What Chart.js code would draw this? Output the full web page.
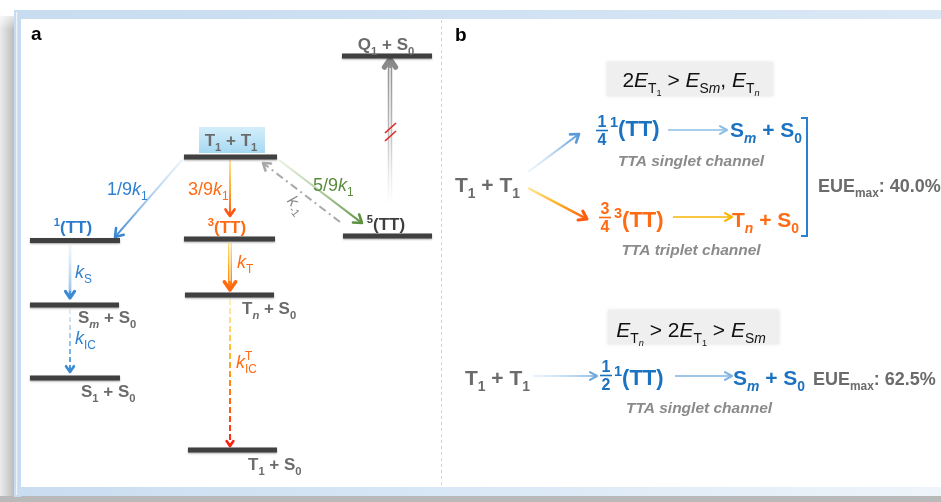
<!DOCTYPE html>
<html>
<head>
<meta charset="utf-8">
<script src="https://cdn.jsdelivr.net/npm/chart.js@4/dist/chart.umd.min.js"></script>
<style>
  html, body { margin: 0; padding: 0; background: #fff; }
  canvas { display: block; }
</style>
</head>
<body>
<canvas id="scheme" width="941" height="502"></canvas>
<script>
// ---- Energy levels (arbitrary energy units, higher = up) ----
const levelNames  = ['TT', 'TT1', 'TT3', 'TT5', 'Q1S0', 'SmS0', 'S1S0', 'TnS0', 'T1S0'];
const levelLabels = ['T_{1} + T_{1}', '^{1}(TT)', '^{3}(TT)', '^{5}(TT)', 'Q_{1} + S_{0}',
                     'S_{*m*} + S_{0}', 'S_{1} + S_{0}', 'T_{*n*} + S_{0}', 'T_{1} + S_{0}'];
const levelEnergy = [345, 261.5, 263, 266, 446, 197, 124, 207, 52];

// ---- Transitions between levels ----
const rateFrom   = ['TT', 'TT', 'TT', 'TT5', 'TT5', 'TT1', 'SmS0', 'TT3', 'TnS0'];
const rateTo     = ['TT1', 'TT3', 'TT5', 'TT', 'Q1S0', 'SmS0', 'S1S0', 'TnS0', 'T1S0'];
const rateLabels = ['1/9*k*_{1}', '3/9*k*_{1}', '5/9*k*_{1}', '*k*_{-1}', '',
                    '*k*_{S}', '*k*_{IC}', '*k*_{T}', '*k*_{IC}^{T}'];

// ---- Spin-statistics channels (panel b) ----
const conditionLabels = ['2*E*_{T_{1}} > *E*_{S*m*}, *E*_{T_{*n*}}', '*E*_{T_{*n*}} > 2*E*_{T_{1}} > *E*_{S*m*}'];
const singletFractions = ['1/4', '1/2'];
const tripletFractions = ['3/4'];
const eueMaxPercent = [40.0, 62.5];

const W = 941, H = 502;
const FAM = '"Liberation Sans", Arial, Helvetica, sans-serif';
const GRAY = '#6b6b6b', BLUE = '#2a7ccc', BLUE_B = '#1a72c0', ORANGE = '#ff6a12', GREEN = '#5b8b3c';

// Horizontal extent of each level bar and where its label sits
const LEVEL_SPAN = {
  TT: [184, 277], TT1: [30, 120], TT3: [184, 275], TT5: [343, 432], Q1S0: [342, 432],
  SmS0: [30, 119], S1S0: [30, 120], TnS0: [185, 274], T1S0: [188, 277]
};
const LEVEL_TEXT = {
  TT:   { x: 231, dy: -11, align: 'center', color: GRAY },
  TT1:  { x: 73,  dy: -7.5, align: 'center', color: BLUE },
  TT3:  { x: 227, dy: -6, align: 'center', color: ORANGE },
  TT5:  { x: 386, dy: -6, align: 'center', color: '#3e3e3e' },
  Q1S0: { x: 386, dy: -6, align: 'center', color: GRAY },
  SmS0: { x: 78,  dy: 18, align: 'left', color: GRAY },
  S1S0: { x: 81,  dy: 19, align: 'left', color: GRAY },
  TnS0: { x: 242, dy: 19, align: 'left', color: GRAY },
  T1S0: { x: 248, dy: 20, align: 'left', color: GRAY }
};
// Arrow geometry: x at both ends, gap from the source/target level (pixels, downwards positive)
const RATE_STYLE = [
  { x0: 182, x1: 115, g0: 3, g1: -3.5, stops: ['rgba(200,225,245,0.4)', '#3a88d4'], w: 2, head: 9, tx: 107, ty: 195, color: '#2f80d0' },
  { x0: 230, x1: 230, g0: 3, g1: -23, stops: ['#ffe3a0', '#ffb030', '#ff5510'], w: 2, head: 8, tx: 188, ty: 195, color: ORANGE },
  { x0: 279, x1: 362, g0: 3, g1: -13, stops: ['rgba(215,232,200,0.6)', '#5d9240'], w: 2, head: 9, tx: 313, ty: 191, color: GREEN },
  { x0: 340, x1: 263, g0: -14, g1: 6, color: '#a9a9a9', w: 2, head: 8, dash: [8, 4, 2, 4], rot: 0.87, tx: 296, ty: 205, tcolor: '#8a8a8a' },
  { x0: 390, x1: 390, g0: -31, g1: 3, stops: ['rgba(210,210,210,0)', '#bdbdbd', '#8c8c8c'], w: 4.5, hollow: 1.6, head: 10, headColor: '#8a8a8a', brk: true },
  { x0: 70, x1: 70, g0: 4.5, g1: -7, stops: ['rgba(205,228,247,0.5)', '#3a8ad6'], w: 2.5, hollow: 1, head: 8, tx: 75, ty: 278, color: '#2f80d0' },
  { x0: 70, x1: 70, g0: 4, g1: -6, stops: ['rgba(205,228,247,0.6)', '#3a8ad6'], w: 2, dash: [5, 3], head: 7, tx: 75, ty: 344, color: '#2f80d0' },
  { x0: 230, x1: 230, g0: 4, g1: -5, stops: ['#ffe58a', '#ffb020', '#ff6a10'], w: 4, hollow: 1.4, head: 10, headW: 3.5, tx: 237, ty: 268, color: ORANGE },
  { x0: 230, x1: 230, g0: 4, g1: -4, stops: ['#fff2c0', '#ffc030', '#ff7010', '#ff2010'], w: 2, dash: [6, 3], head: 6, tx: 236, ty: 368, color: ORANGE }
];

// ---------- rich text with sub/superscripts and *italics* ----------
function parseRich(src) {
  const runs = [];
  let italic = false, gid = 0;
  function walk(str, stack, groups, over) {
    let buf = '', i = 0, lastSub = null;
    const flush = () => {
      if (buf) { runs.push({ t: buf, stack: stack.slice(), it: italic, groups: groups.slice(), over }); buf = ''; }
    };
    while (i < str.length) {
      const c = str[i];
      if ((c === '_' || c === '^') && str[i + 1] === '{') {
        flush();
        let d = 1, j = i + 2;
        while (j < str.length && d) { if (str[j] === '{') d++; else if (str[j] === '}') d--; j++; }
        const id = ++gid;
        const ov = over !== undefined ? over : (c === '^' && lastSub !== null ? lastSub : undefined);
        walk(str.slice(i + 2, j - 1), stack.concat(c), groups.concat(id), ov);
        lastSub = c === '_' ? id : null;
        i = j;
      } else {
        if (c === '*') { flush(); italic = !italic; }
        else { buf += c; lastSub = null; }
        i++;
      }
    }
    flush();
  }
  walk(src, [], [], undefined);
  return runs;
}

function layoutRich(ctx, runs, size, weight, subScale) {
  let cx = 0, maxX = 0;
  const gStart = {}, applied = {};
  for (const r of runs) {
    let sz = size, dy = 0;
    for (const m of r.stack) {
      if (m === '_') dy += sz * 0.27; else dy -= sz * 0.42;
      sz *= subScale;
    }
    r.size = sz; r.dy = dy;
    r.font = (r.it ? 'italic ' : '') + weight + ' ' + sz.toFixed(2) + 'px ' + FAM;
    if (r.over !== undefined) {
      if (!applied[r.over]) { cx = gStart[r.over]; applied[r.over] = true; }
    } else {
      cx = maxX;
    }
    for (const g of r.groups) if (gStart[g] === undefined) gStart[g] = cx;
    ctx.font = r.font;
    r.w = ctx.measureText(r.t).width;
    r.x = cx;
    cx += r.w;
    maxX = Math.max(maxX, cx);
  }
  return maxX;
}

function drawRich(ctx, src, x, y, o) {
  const runs = parseRich(src);
  const w = layoutRich(ctx, runs, o.size, o.weight || 'bold', o.sub || 0.66);
  const x0 = o.align === 'center' ? x - w / 2 : (o.align === 'right' ? x - w : x);
  ctx.save();
  ctx.textAlign = 'left';
  ctx.textBaseline = 'alphabetic';
  ctx.fillStyle = o.color;
  for (const r of runs) { ctx.font = r.font; ctx.fillText(r.t, x0 + r.x, y + r.dy); }
  ctx.restore();
  return w;
}

function drawFraction(ctx, frac, cx, y, size, color) {
  const [num, den] = frac.split('/');
  ctx.save();
  ctx.font = 'bold ' + size + 'px ' + FAM;
  ctx.fillStyle = color; ctx.strokeStyle = color;
  ctx.textAlign = 'center'; ctx.textBaseline = 'alphabetic';
  ctx.fillText(num, cx, y - 3);
  ctx.lineWidth = 1.6;
  ctx.beginPath(); ctx.moveTo(cx - 6, y + 0.5); ctx.lineTo(cx + 6, y + 0.5); ctx.stroke();
  ctx.fillText(den, cx, y + 3 + size * 0.72);
  ctx.restore();
}

function arrow(ctx, p0, p1, o) {
  const ang = Math.atan2(p1.y - p0.y, p1.x - p0.x);
  const len = Math.hypot(p1.x - p0.x, p1.y - p0.y);
  let stroke = o.color;
  if (o.stops) {
    const g = ctx.createLinearGradient(p0.x, p0.y, p1.x, p1.y);
    o.stops.forEach((c, i) => g.addColorStop(i / (o.stops.length - 1), c));
    stroke = g;
  }
  const headColor = o.headColor || (o.stops ? o.stops[o.stops.length - 1] : o.color);
  ctx.save();
  ctx.lineCap = 'butt';
  ctx.strokeStyle = stroke;
  ctx.lineWidth = o.w;
  if (o.dash) ctx.setLineDash(o.dash);
  const ex = p0.x + Math.cos(ang) * (len - 1.5), ey = p0.y + Math.sin(ang) * (len - 1.5);
  ctx.beginPath(); ctx.moveTo(p0.x, p0.y); ctx.lineTo(ex, ey); ctx.stroke();
  if (o.hollow) {
    const hx = p0.x + Math.cos(ang) * (len - o.head * 0.9), hy = p0.y + Math.sin(ang) * (len - o.head * 0.9);
    ctx.strokeStyle = 'rgba(255,255,255,0.8)';
    ctx.lineWidth = o.hollow;
    ctx.beginPath(); ctx.moveTo(p0.x, p0.y); ctx.lineTo(hx, hy); ctx.stroke();
  }
  ctx.setLineDash([]);
  const ha = o.headAngle || 0.6, hs = o.head;
  ctx.strokeStyle = headColor;
  ctx.lineWidth = o.headW || (o.w + 0.6);
  ctx.lineCap = 'round'; ctx.lineJoin = 'round';
  ctx.beginPath();
  ctx.moveTo(p1.x - hs * Math.cos(ang - ha), p1.y - hs * Math.sin(ang - ha));
  ctx.lineTo(p1.x, p1.y);
  ctx.lineTo(p1.x - hs * Math.cos(ang + ha), p1.y - hs * Math.sin(ang + ha));
  ctx.stroke();
  ctx.restore();
}

// ---------- plugins ----------
const framePlugin = {
  id: 'frame',
  beforeDraw(chart) {
    const ctx = chart.ctx;
    ctx.save();
    ctx.fillStyle = '#ffffff'; ctx.fillRect(0, 0, W, H);
    // soft grey drop shadow on the left and bottom
    let g = ctx.createLinearGradient(0, 0, 14, 0);
    g.addColorStop(0, '#ececec'); g.addColorStop(1, '#bcbcbc');
    ctx.fillStyle = g; ctx.fillRect(0, 16, 14, H - 16);
    g = ctx.createLinearGradient(0, 8, 0, 30);
    g.addColorStop(0, 'rgba(255,255,255,1)'); g.addColorStop(1, 'rgba(255,255,255,0)');
    ctx.fillStyle = g; ctx.fillRect(0, 8, 14, 22);
    ctx.fillStyle = '#b9b9b9'; ctx.fillRect(0, 496, W, 6);
    // pale blue frame
    g = ctx.createLinearGradient(14, 0, W, 0);
    g.addColorStop(0, '#c8dcf0'); g.addColorStop(0.5, '#cfe1f3'); g.addColorStop(1, '#dbe8f5');
    ctx.fillStyle = g; ctx.fillRect(14, 10, W - 14, 9);
    ctx.fillStyle = '#c6dbef'; ctx.fillRect(14, 10, 7, 487);
    g = ctx.createLinearGradient(14, 0, W, 0);
    g.addColorStop(0, '#c9ddf1'); g.addColorStop(0.5, '#dae8f6'); g.addColorStop(1, '#eef4fa');
    ctx.fillStyle = g; ctx.fillRect(14, 487, W - 14, 9);
    ctx.fillStyle = 'rgba(255,255,255,0.7)'; ctx.fillRect(16, 12, 1.2, 483);
    ctx.fillStyle = '#ffffff'; ctx.fillRect(21, 19, W - 21, 468);
    // dashed divider between the two panels
    ctx.strokeStyle = '#d2d2d2'; ctx.lineWidth = 1; ctx.setLineDash([3, 3]);
    ctx.beginPath(); ctx.moveTo(441.5, 20); ctx.lineTo(441.5, 486); ctx.stroke();
    ctx.restore();
  }
};

const levelShadow = {
  id: 'levelShadow',
  beforeDatasetDraw(chart) {
    chart.ctx.save();
    chart.ctx.shadowColor = 'rgba(0,0,0,0.35)';
    chart.ctx.shadowBlur = 2;
    chart.ctx.shadowOffsetY = 1;
  },
  afterDatasetDraw(chart) { chart.ctx.restore(); }
};

function levelIndex(name) { return levelNames.indexOf(name); }

const schemePlugin = {
  id: 'scheme',
  beforeDatasetsDraw(chart) {
    const ctx = chart.ctx, xs = chart.scales.x, ys = chart.scales.y;
    const X = v => xs.getPixelForValue(v);
    const Y = e => ys.getPixelForValue(e);
    // highlight behind the T1 + T1 pair label
    const eTT = levelEnergy[levelIndex('TT')];
    const g = ctx.createLinearGradient(0, Y(eTT) - 30, 0, Y(eTT) - 4);
    g.addColorStop(0, '#d4eefa'); g.addColorStop(1, '#a6d9f2');
    ctx.fillStyle = g;
    ctx.fillRect(X(199), Y(eTT) - 30, X(265) - X(199), 26);

    // transition arrows
    rateFrom.forEach((from, i) => {
      const s = RATE_STYLE[i];
      const yA = Y(levelEnergy[levelIndex(from)]) + s.g0;
      const yB = Y(levelEnergy[levelIndex(rateTo[i])]) + s.g1;
      arrow(ctx, { x: X(s.x0), y: yA }, { x: X(s.x1), y: yB }, s);
      if (s.brk) {
        const ym = (yA + yB) / 2;
        ctx.save();
        ctx.strokeStyle = '#e0262a'; ctx.lineWidth = 1.6;
        [-4, 4].forEach(o => {
          ctx.beginPath();
          ctx.moveTo(X(s.x0) - 5, ym + o + 5); ctx.lineTo(X(s.x0) + 6, ym + o - 5);
          ctx.stroke();
        });
        ctx.restore();
      }
    });
  },
  afterDatasetsDraw(chart) {
    const ctx = chart.ctx, xs = chart.scales.x, ys = chart.scales.y;
    const X = v => xs.getPixelForValue(v);
    const Y = e => ys.getPixelForValue(e);
    const T = top => ys.getPixelForValue(H - top);   // layout position measured from the top

    // panel letters
    drawRich(ctx, 'a', X(31), T(40), { size: 19, color: '#000' });
    drawRich(ctx, 'b', X(455), T(41), { size: 19, color: '#000' });

    // level labels
    levelNames.forEach((n, i) => {
      const t = LEVEL_TEXT[n];
      drawRich(ctx, levelLabels[i], X(t.x), Y(levelEnergy[i]) + t.dy, { size: 17, color: t.color, align: t.align });
    });

    // rate labels
    rateLabels.forEach((lab, i) => {
      if (!lab) return;
      const s = RATE_STYLE[i];
      if (s.rot) {
        ctx.save();
        ctx.translate(X(s.tx), T(s.ty));
        ctx.rotate(s.rot);
        drawRich(ctx, lab, 0, 5, { size: 16, weight: 'normal', color: s.tcolor, align: 'center', sub: 0.7 });
        ctx.restore();
      } else {
        drawRich(ctx, lab, X(s.tx), T(s.ty), { size: 18, weight: 'normal', color: s.color });
      }
    });

    // ---- panel b ----
    const box = (x, y, w, h) => {
      ctx.save();
      ctx.shadowColor = 'rgba(0,0,0,0.12)'; ctx.shadowBlur = 3;
      ctx.fillStyle = '#efefef';
      ctx.fillRect(X(x), T(y), X(x + w) - X(x), T(y + h) - T(y));
      ctx.restore();
    };
    box(607, 62, 166, 34);
    box(608, 310, 171, 34);
    drawRich(ctx, conditionLabels[0], X(691), T(87), { size: 21, weight: 'normal', color: '#111', align: 'center' });
    drawRich(ctx, conditionLabels[1], X(691), T(337), { size: 21, weight: 'normal', color: '#111', align: 'center' });

    // case 1: singlet and triplet channels
    drawRich(ctx, 'T_{1} + T_{1}', X(455), T(192), { size: 21, color: GRAY });
    arrow(ctx, { x: X(528), y: T(172) }, { x: X(579), y: T(134) },
      { stops: ['rgba(200,225,245,0.3)', '#5a9ad8'], w: 2, head: 9 });
    arrow(ctx, { x: X(528), y: T(188) }, { x: X(587), y: T(219) },
      { stops: ['#ffe8a0', '#ffb020', '#ff5a10'], w: 2.5, head: 9 });
    drawFraction(ctx, singletFractions[0], X(602), T(130), 16, BLUE_B);
    drawRich(ctx, '^{1}(TT)', X(610), T(136), { size: 22, color: BLUE_B });
    arrow(ctx, { x: X(668), y: T(130) }, { x: X(727), y: T(130) }, { color: '#8dbde6', w: 1.5, head: 8, headAngle: 0.5 });
    drawRich(ctx, 'S_{*m*} + S_{0}', X(730), T(137), { size: 21, color: BLUE_B });
    drawRich(ctx, '*TTA singlet channel*', X(691), T(166), { size: 15.5, color: '#8b8b8b', align: 'center' });

    drawFraction(ctx, tripletFractions[0], X(605), T(217), 16, ORANGE);
    drawRich(ctx, '^{3}(TT)', X(614), T(227), { size: 22, color: ORANGE });
    arrow(ctx, { x: X(673), y: T(217) }, { x: X(732), y: T(217) }, { color: '#f8b400', w: 1.5, head: 8, headAngle: 0.5 });
    drawRich(ctx, 'T_{*n*} + S_{0}', X(732), T(227), { size: 21, color: ORANGE });
    drawRich(ctx, '*TTA triplet channel*', X(691), T(255), { size: 15.5, color: '#8b8b8b', align: 'center' });

    ctx.save();
    ctx.strokeStyle = '#2a7fd0'; ctx.lineWidth = 2;
    ctx.beginPath();
    ctx.moveTo(X(801), T(118)); ctx.lineTo(X(807), T(118)); ctx.lineTo(X(807), T(236)); ctx.lineTo(X(801), T(236));
    ctx.stroke();
    ctx.restore();
    drawRich(ctx, 'EUE_{max}: ' + eueMaxPercent[0].toFixed(1) + '%', X(818), T(192), { size: 18, color: GRAY });

    // case 2: singlet channel only
    drawRich(ctx, 'T_{1} + T_{1}', X(465), T(385), { size: 21, color: GRAY });
    arrow(ctx, { x: X(533), y: T(376) }, { x: X(597), y: T(376) },
      { stops: ['rgba(200,225,245,0.5)', '#6aa8dc'], w: 1.5, head: 8, headAngle: 0.5 });
    drawFraction(ctx, singletFractions[1], X(606), T(375), 16, BLUE_B);
    drawRich(ctx, '^{1}(TT)', X(614), T(385), { size: 22, color: BLUE_B });
    arrow(ctx, { x: X(675), y: T(376) }, { x: X(732), y: T(376) }, { color: '#7fb4e2', w: 1.5, head: 8, headAngle: 0.5 });
    drawRich(ctx, 'S_{*m*} + S_{0}', X(733), T(385), { size: 21, color: BLUE_B });
    drawRich(ctx, 'EUE_{max}: ' + eueMaxPercent[1].toFixed(1) + '%', X(813), T(385), { size: 18, color: GRAY });
    drawRich(ctx, '*TTA singlet channel*', X(699), T(413), { size: 15.5, color: '#8b8b8b', align: 'center' });
  }
};

// ---------- chart ----------
const datasets = levelNames.map((n, i) => ({
  label: n,
  data: [{ x: LEVEL_SPAN[n][0], y: levelEnergy[i] }, { x: LEVEL_SPAN[n][1], y: levelEnergy[i] }],
  borderColor: '#404040',
  borderWidth: 5,
  borderCapStyle: 'butt',
  pointRadius: 0,
  showLine: true,
  fill: false,
  tension: 0
}));

new Chart(document.getElementById('scheme'), {
  type: 'line',
  data: { datasets },
  options: {
    responsive: false,
    animation: false,
    events: [],
    layout: { padding: 0 },
    plugins: { legend: { display: false }, tooltip: { enabled: false } },
    scales: {
      x: { type: 'linear', min: 0, max: W, display: false },
      y: { type: 'linear', min: 0, max: H, display: false }
    }
  },
  plugins: [framePlugin, levelShadow, schemePlugin]
});
</script>
</body>
</html>
